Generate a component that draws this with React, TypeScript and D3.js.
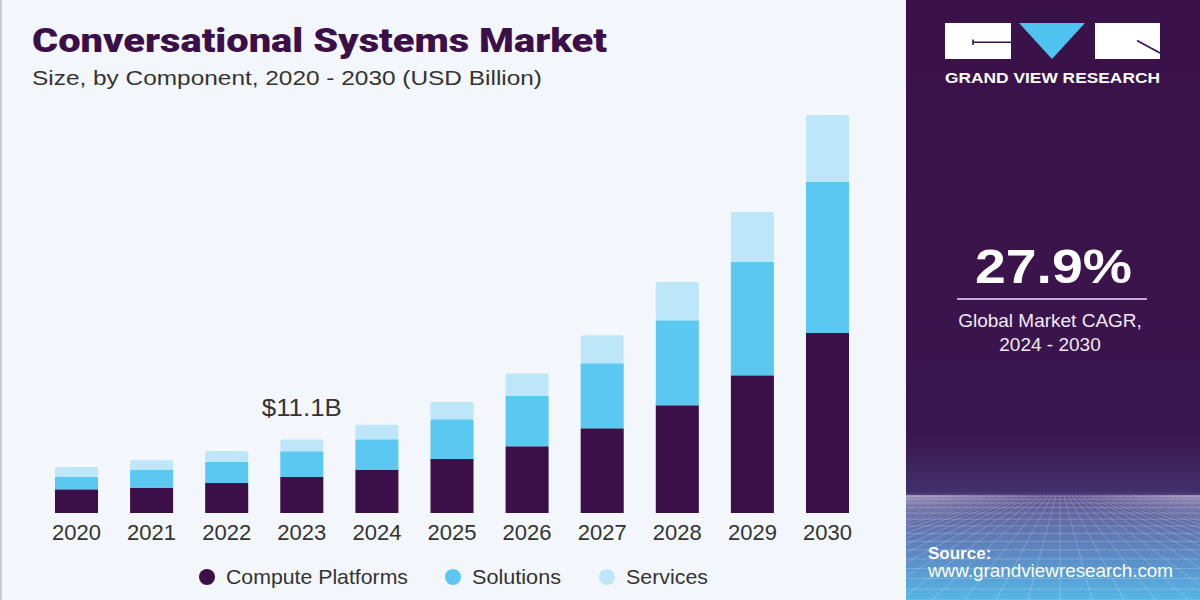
import React from 'react'
import * as d3 from 'd3'

// market size by component, USD billion
const years = ['2020', '2021', '2022', '2023', '2024', '2025', '2026', '2027', '2028', '2029', '2030']
const computePlatforms = [3.58, 3.84, 4.54, 5.44, 6.56, 8.17, 10.09, 12.81, 16.29, 20.82, 27.22]
const solutions = [1.86, 2.72, 3.18, 3.89, 4.58, 6.0, 7.61, 9.83, 12.85, 17.13, 22.88]
const services = [1.51, 1.41, 1.66, 1.77, 2.22, 2.62, 3.39, 4.23, 5.79, 7.56, 10.09]
const seriesNames = ['Compute Platforms', 'Solutions', 'Services']
const seriesColors = ['#3b0f47', '#5bc8f2', '#bde6f8']
const calloutYear = '2023'
const cagr = '27.9%'

const W = 1200
const H = 600
const PANEL_X = 906
const BASE_Y = 513

function App() {
  const rows = years.map((y, i) => ({
    year: y,
    'Compute Platforms': computePlatforms[i],
    Solutions: solutions[i],
    Services: services[i],
  }))
  const stacked = d3.stack<any>().keys(seriesNames)(rows)

  const x = d3.scaleBand<string>()
    .domain(years)
    .range([38.95, 38.95 + 75.1 * years.length])
    .paddingInner(0.427)
    .paddingOuter(0.2135)

  const y = d3.scaleLinear().domain([0, 60]).range([BASE_Y, BASE_Y - 60 * 6.613])

  const calloutIdx = years.indexOf(calloutYear)
  const calloutTotal = computePlatforms[calloutIdx] + solutions[calloutIdx] + services[calloutIdx]

  // perspective grid in the panel footer
  const horizon = 495
  const vp = { x: 1060, y: 430 }
  const hLines = d3.range(0, 16).map(i => horizon + Math.pow(i / 15, 1.6) * 105)
  const vLines = d3.range(-50, 51).map(i => vp.x + i * 32)

  const legendX = [207, 453, 607]
  const legendLen = [182, 89, 82]

  return (
    <svg width={W} height={H} style={{ position: 'absolute', left: 0, top: 0, display: 'block' }}
      fontFamily="'Liberation Sans', Arial, sans-serif">
      <defs>
        <linearGradient id="panelGrad" x1="0" y1="0" x2="0" y2="1">
          <stop offset="0" stopColor="#3a1249" />
          <stop offset="0.72" stopColor="#3b154d" />
          <stop offset="0.82" stopColor="#42306c" />
          <stop offset="0.83" stopColor="#655a95" />
          <stop offset="0.92" stopColor="#5d88c2" />
          <stop offset="1" stopColor="#56b6e6" />
        </linearGradient>
        <clipPath id="gridClip">
          <rect x={PANEL_X} y={horizon} width={W - PANEL_X} height={H - horizon} />
        </clipPath>
      </defs>

      <rect x={0} y={0} width={PANEL_X} height={H} fill="#f3f7fb" />
      <rect x={0} y={0} width={2} height={H} fill="#c9ccd2" />

      {/* titles */}
      <text x={32} y={52} fontFamily="Roboto, 'Liberation Sans', sans-serif" fontWeight={900} fontSize={34}
        fill="#3b0f47" textLength={575} lengthAdjust="spacingAndGlyphs">Conversational Systems Market</text>
      <text x={32} y={85} fontSize={21} fill="#333" textLength={510} lengthAdjust="spacingAndGlyphs">
        Size, by Component, 2020 - 2030 (USD Billion)</text>

      {/* stacked bars */}
      {stacked.map((s, si) => (
        <g key={s.key} fill={seriesColors[si]}>
          {s.map((d, i) => (
            <rect key={years[i]} x={x(years[i])} y={y(d[1])} width={x.bandwidth()}
              height={y(d[0]) - y(d[1])} rx={si === 2 ? 2 : 0} />
          ))}
        </g>
      ))}

      <text x={(x(calloutYear) as number) + x.bandwidth() / 2} y={y(calloutTotal) - 24} textAnchor="middle"
        fontSize={24} fill="#333" textLength={80} lengthAdjust="spacingAndGlyphs">${calloutTotal.toFixed(1)}B</text>

      {/* x axis labels */}
      {years.map(yr => (
        <text key={yr} x={(x(yr) as number) + x.bandwidth() / 2} y={540} textAnchor="middle"
          fontSize={22} fill="#333">{yr}</text>
      ))}

      {/* legend */}
      {seriesNames.map((n, i) => (
        <g key={n}>
          <circle cx={legendX[i]} cy={577} r={8} fill={seriesColors[i]} />
          <text x={legendX[i] + 19} y={584} fontSize={21} fill="#333" textLength={legendLen[i]}
            lengthAdjust="spacingAndGlyphs">{n}</text>
        </g>
      ))}

      {/* side panel */}
      <rect x={PANEL_X} y={0} width={W - PANEL_X} height={H} fill="url(#panelGrad)" />
      <g clipPath="url(#gridClip)" stroke="#ffffff" strokeOpacity={0.2} strokeWidth={1}>
        {hLines.map((ly, i) => <line key={'h' + i} x1={PANEL_X} x2={W} y1={ly} y2={ly} />)}
        {vLines.map((lx, i) => <line key={'v' + i} x1={vp.x + (lx - vp.x) * 0.12} y1={horizon}
          x2={lx} y2={H} />)}
      </g>

      {/* logo */}
      <rect x={945} y={23} width={66} height={36} fill="#fff" />
      <path d="M973,39.5V45M973,42.3H1011" stroke="#3a1249" strokeWidth={1.6} fill="none" />
      <path d="M1019,23H1085L1052,59Z" fill="#4fc3f0" />
      <rect x={1095} y={23} width={65} height={36} fill="#fff" />
      <path d="M1137,40.5L1160,53" stroke="#3a1249" strokeWidth={1.6} fill="none" />
      <text x={945} y={83} fontSize={14} fontWeight={700} fill="#fff" textLength={215}
        lengthAdjust="spacingAndGlyphs">GRAND VIEW RESEARCH</text>

      {/* CAGR */}
      <text x={1053.5} y={283} textAnchor="middle" fontSize={49} fontWeight={700} fill="#fff"
        textLength={157} lengthAdjust="spacingAndGlyphs">{cagr}</text>
      <line x1={957} x2={1147} y1={299} y2={299} stroke="#c8a6dc" strokeWidth={2} />
      <text x={1050} y={327} textAnchor="middle" fontSize={19} fill="#f1eaf5">Global Market CAGR,</text>
      <text x={1050} y={351} textAnchor="middle" fontSize={19} fill="#f1eaf5">2024 - 2030</text>

      {/* source */}
      <text x={928} y={559} fontSize={17} fontWeight={700} fill="#fff">Source:</text>
      <text x={928} y={577} fontSize={18} fill="#fff" textLength={245}
        lengthAdjust="spacingAndGlyphs">www.grandviewresearch.com</text>
    </svg>
  )
}

export default App
